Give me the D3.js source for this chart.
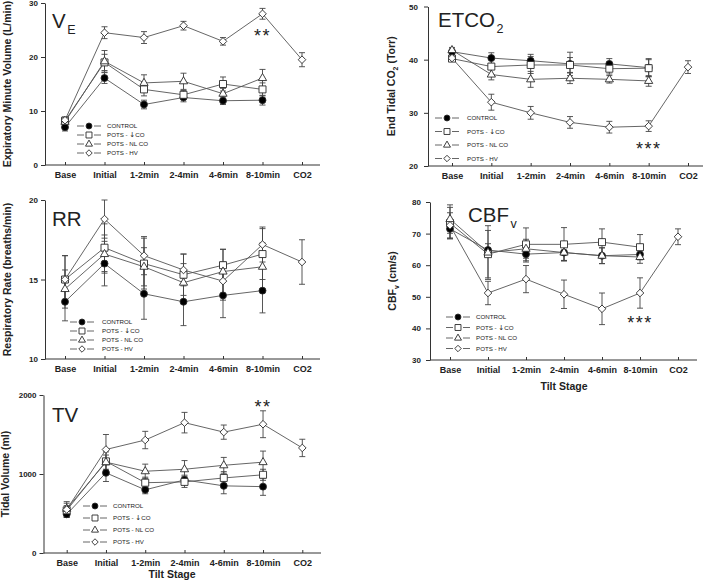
<!DOCTYPE html>
<html><head><meta charset="utf-8">
<script src="https://cdn.jsdelivr.net/npm/d3@7"></script>
<style>
body{margin:0;background:#fff}
svg{display:block}
text{font-family:"Liberation Sans",Arial,Helvetica,sans-serif;fill:#222}
</style>
</head><body>
<svg id="chart" width="709" height="581"></svg>
<script>
// ---------- data ----------
const categories = ["Base","Initial","1-2min","2-4min","4-6min","8-10min","CO2"];
const seriesNames = ["CONTROL","POTS -  \u2193CO","POTS - NL CO","POTS - HV"];
const seriesShapes = ["circle","square","triangle","diamond"];

// Expiratory minute volume (L/min)
const veControl = [7.0,16.1,11.2,12.5,11.9,12.0,null];
const veControlErr = [0.7,1.0,0.8,0.8,0.7,0.9,null];
const veLowCO = [8.2,19.0,14.0,13.0,15.0,14.0,null];
const veLowCOErr = [0.6,1.5,1.2,0.8,1.3,1.2,null];
const veNormCO = [8.0,19.2,15.2,15.5,13.2,16.1,null];
const veNormCOErr = [0.7,2.0,1.5,1.5,1.0,1.6,null];
const veHV = [8.3,24.5,23.6,25.8,22.9,28.0,19.5];
const veHVErr = [0.6,1.1,1.1,0.8,0.7,1.0,1.3];

// End tidal CO2 (Torr)
const etControl = [41.5,40.3,39.8,39.2,39.2,38.5,null];
const etControlErr = [0.5,1.0,1.2,2.2,1.0,1.7,null];
const etLowCO = [40.2,38.7,39.0,39.0,38.3,38.4,null];
const etLowCOErr = [0.5,1.5,1.6,1.4,1.0,1.6,null];
const etNormCO = [41.8,37.2,36.3,36.5,36.3,36.0,null];
const etNormCOErr = [0.5,1.0,1.5,1.0,0.7,1.0,null];
const etHV = [40.3,32.0,30.0,28.2,27.3,27.5,38.6];
const etHVErr = [0.6,1.5,1.2,1.1,1.1,1.0,1.2];

// Respiratory rate (breaths/min)
const rrControl = [13.6,16.0,14.1,13.6,14.0,14.3,null];
const rrControlErr = [1.2,1.4,1.6,1.5,1.4,1.4,null];
const rrLowCO = [15.0,17.0,16.0,15.3,15.9,16.6,null];
const rrLowCOErr = [1.5,1.5,1.6,1.3,1.0,1.6,null];
const rrNormCO = [14.4,16.6,15.8,14.8,15.5,15.8,null];
const rrNormCOErr = [1.2,1.2,1.2,1.2,1.4,1.5,null];
const rrHV = [15.0,18.8,16.5,15.6,14.9,17.2,16.1];
const rrHVErr = [1.5,1.2,1.2,1.0,1.2,1.1,1.4];

// Cerebral blood flow velocity (cm/s)
const cbControl = [71.5,64.8,63.5,64.0,63.0,63.4,null];
const cbControlErr = [3.0,2.0,2.5,2.5,2.5,1.5,null];
const cbLowCO = [73.3,63.5,66.6,66.6,67.3,65.7,null];
const cbLowCOErr = [5.0,7.5,5.2,5.3,4.2,4.0,null];
const cbNormCO = [74.6,64.0,65.2,64.0,63.0,62.6,null];
const cbNormCOErr = [4.5,8.5,3.0,2.5,2.5,2.0,null];
const cbHV = [72.6,51.2,55.6,50.8,46.2,51.2,69.0];
const cbHVErr = [4.0,3.7,4.3,4.5,5.0,4.8,2.5];

// Tidal volume (ml)
const tvControl = [490,1015,800,925,850,840,null];
const tvControlErr = [40,110,50,60,100,110,null];
const tvLowCO = [540,1160,890,900,950,990,null];
const tvLowCOErr = [60,120,70,70,80,70,null];
const tvNormCO = [560,1150,1035,1060,1110,1150,null];
const tvNormCOErr = [70,90,90,110,100,140,null];
const tvHV = [550,1310,1430,1650,1530,1630,1330];
const tvHVErr = [100,190,110,130,90,170,110];

// ---------- panels ----------
const panels = [
  {title:["V","E"], ylabel:["Expiratory Minute Volume (L/min)"],
   means:[veControl,veLowCO,veNormCO,veHV], errs:[veControlErr,veLowCOErr,veNormCOErr,veHVErr],
   ydom:[0,30], ticks:[0,10,20,30], sig:"**", sigIdx:5, sigVal:24.6,
   L:{x0:45,x1:320,top:3,bottom:165,c0:65,c1:302,lab:11,tpad:3,title:[52,28],leg:[89,107,126,9],xlab:null}},
  {title:["ETCO","2"], ylabel:["End Tidal CO","2"," (Torr)"],
   means:[etControl,etLowCO,etNormCO,etHV], errs:[etControlErr,etLowCOErr,etNormCOErr,etHVErr],
   ydom:[20,50], ticks:[20,30,40,50], sig:"***", sigIdx:5, sigVal:24.1,
   L:{x0:428,x1:703,top:6.5,bottom:166,c0:452,c1:688,lab:395,tpad:6,title:[438,27],leg:[447,467,118,13.5],xlab:null}},
  {title:["RR"], ylabel:["Respiratory Rate (breaths/min)"],
   means:[rrControl,rrLowCO,rrNormCO,rrHV], errs:[rrControlErr,rrLowCOErr,rrNormCOErr,rrHVErr],
   ydom:[10,20], ticks:[10,15,20], sig:null,
   L:{x0:45,x1:320,top:200,bottom:359,c0:65,c1:302,lab:11,tpad:3,title:[52,226],leg:[82,102,322,9],xlab:null}},
  {title:["CBF","v"], ylabel:["CBF","v"," (cm/s)"],
   means:[cbControl,cbLowCO,cbNormCO,cbHV], errs:[cbControlErr,cbLowCOErr,cbNormCOErr,cbHVErr],
   ydom:[30,80], ticks:[30,40,50,60,70,80], sig:"***", sigIdx:5, sigVal:43,
   L:{x0:430,x1:697,top:202,bottom:360,c0:450,c1:678,lab:396,tpad:5,title:[468,222],leg:[458,476,317,10.5],xlab:[564,390]}},
  {title:["TV"], ylabel:["Tidal Volume (ml)"],
   means:[tvControl,tvLowCO,tvNormCO,tvHV], errs:[tvControlErr,tvLowCOErr,tvNormCOErr,tvHVErr],
   ydom:[0,2000], ticks:[0,1000,2000], sig:"**", sigIdx:5, sigVal:1900,
   L:{x0:43.5,x1:321,top:395,bottom:553,c0:66.7,c1:302.3,lab:9,tpad:3,title:[52,422],leg:[95,113,506,12],xlab:[172,578]}}
];

const svg = d3.select("#chart");
const LINE = "#555", MARK = "#2a2a2a", AXIS = "#333";

function shapePath(shape, s){
  const k = s || 1;
  if(shape==="square"){const h=3.5*k;return `M${-h},${-h}H${h}V${h}H${-h}Z`;}
  if(shape==="triangle"){return `M0,${-4.6*k}L${4.1*k},${2.5*k}L${-4.1*k},${2.5*k}Z`;}
  if(shape==="diamond"){const h=3.8*k;return `M0,${-h}L${h},0L0,${h}L${-h},0Z`;}
  return d3.symbol(d3.symbolCircle, 38*k*k)();
}
function drawMarker(g, shape, x, y, s){
  g.append("path").attr("d", shapePath(shape, s)).attr("transform",`translate(${x},${y})`)
    .attr("fill", shape==="circle" ? "#000" : "#fff")
    .attr("stroke", MARK).attr("stroke-width", 0.9);
}

panels.forEach(p => {
  const L = p.L;
  const g = svg.append("g");
  const x = d3.scalePoint().domain(categories).range([L.c0, L.c1]);
  const y = d3.scaleLinear().domain(p.ydom).range([L.bottom, L.top]);

  // y axis
  const ya = g.append("g").attr("transform",`translate(${L.x0},0)`)
    .call(d3.axisLeft(y).tickValues(p.ticks).tickSize(4).tickSizeOuter(0).tickPadding(L.tpad).tickFormat(d3.format("d")));
  ya.selectAll("text").attr("font-size","8px").attr("font-weight","bold").attr("fill","#222")
    .style("font-family",'"Liberation Sans",Arial,sans-serif');
  ya.selectAll("line,path").attr("stroke",AXIS);

  // x axis
  const xa = g.append("g").attr("transform",`translate(0,${L.bottom})`)
    .call(d3.axisBottom(x).tickSize(-3).tickSizeOuter(0).tickPadding(6.6));
  xa.select(".domain").remove();
  xa.selectAll("text").attr("font-size","9px").attr("font-weight","bold").attr("fill","#222")
    .style("font-family",'"Liberation Sans",Arial,sans-serif');
  xa.selectAll("line").attr("stroke",AXIS);
  g.append("line").attr("x1",L.x0).attr("x2",L.x1).attr("y1",L.bottom).attr("y2",L.bottom)
    .attr("stroke",AXIS).attr("stroke-width",1);

  // y label
  const yl = g.append("text").attr("transform",`translate(${L.lab},${(L.top+L.bottom)/2}) rotate(-90)`)
    .attr("text-anchor","middle").attr("font-size","10.5px").attr("font-weight","bold");
  p.ylabel.forEach((t,i)=>{
    const ts = yl.append("tspan").text(t);
    if(p.ylabel.length===3 && i===1) ts.attr("font-size","7px").attr("dy","2.5");
    if(p.ylabel.length===3 && i===2) ts.attr("dy","-2.5");
  });

  // x label
  if(L.xlab){
    g.append("text").attr("x",L.xlab[0]).attr("y",L.xlab[1]).attr("text-anchor","middle")
      .attr("font-size","10.5px").attr("font-weight","bold").text("Tilt Stage");
  }

  // title
  const tt = g.append("text").attr("x",L.title[0]).attr("y",L.title[1]).attr("font-size","20.5px").attr("fill","#111");
  tt.append("tspan").text(p.title[0]);
  if(p.title[1]) tt.append("tspan").attr("font-size","12.5px").attr("dy","6").attr("dx","1.5").text(p.title[1]);

  // lines
  const line = d3.line().defined(d=>d[1]!==null).x(d=>x(d[0])).y(d=>y(d[1]));
  p.means.forEach(m=>{
    g.append("path").attr("d", line(categories.map((c,i)=>[c,m[i]])))
      .attr("fill","none").attr("stroke",LINE).attr("stroke-width",0.9);
  });
  // error bars
  p.means.forEach((m,si)=>{
    m.forEach((v,i)=>{
      if(v===null) return;
      const e = p.errs[si][i], cx = x(categories[i]);
      const yt = y(v+e), yb = y(v-e);
      g.append("path").attr("d",`M${cx},${yt}V${yb}M${cx-3},${yt}H${cx+3}M${cx-3},${yb}H${cx+3}`)
        .attr("stroke","#444").attr("stroke-width",0.9).attr("fill","none");
    });
  });
  // markers
  p.means.forEach((m,si)=>{
    m.forEach((v,i)=>{ if(v!==null) drawMarker(g, seriesShapes[si], x(categories[i]), y(v), 1); });
  });

  // significance
  if(p.sig){
    g.append("text").attr("x",x(categories[p.sigIdx])).attr("y",y(p.sigVal)+10.3)
      .attr("text-anchor","middle").attr("font-size","18px").attr("letter-spacing","1.5px")
      .attr("fill","#444").text(p.sig);
  }

  // legend
  const [mx,tx,ly0,dy] = L.leg;
  seriesNames.forEach((n,i)=>{
    const yy = ly0 + i*dy;
    g.append("path").attr("d",`M${mx-12},${yy}H${mx-5}M${mx+5},${yy}H${mx+12}`)
      .attr("stroke",LINE).attr("stroke-width",0.9);
    drawMarker(g, seriesShapes[i], mx, yy, 0.85);
    const t = g.append("text").attr("x",tx).attr("y",yy).attr("dy","0.35em").attr("font-size","6.2px");
    if(n.indexOf("\u2193")>=0){
      const parts = n.split("\u2193");
      t.append("tspan").text(parts[0]);
      t.append("tspan").style("font-family",'"DejaVu Sans",sans-serif').attr("font-size","7px").text("\u2193");
      t.append("tspan").text(parts[1]);
    } else t.text(n);
  });
});
</script>
</body></html>
